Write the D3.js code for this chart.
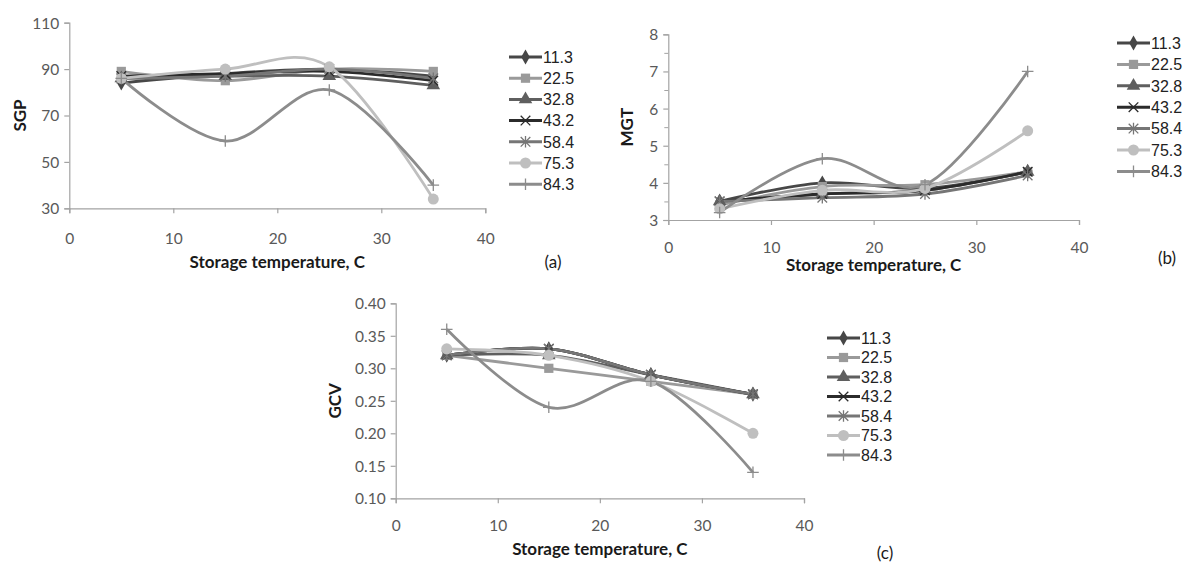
<!DOCTYPE html>
<html><head><meta charset="utf-8">
<script src="https://cdn.jsdelivr.net/npm/d3@7"></script>
<style>
html,body{margin:0;padding:0;background:#fff;}
svg{display:block;}
</style></head>
<body><svg id="chart" width="1186" height="565"></svg>
<script>
// ---------- data ----------
const temperatures = [5, 15, 25, 35];
const seriesNames = ["11.3", "22.5", "32.8", "43.2", "58.4", "75.3", "84.3"];

const sgpValues = [
  [84, 88, 90, 87],
  [89, 85, 90, 89],
  [86, 87, 87, 83],
  [87, 88, 89, 85],
  [86, 87, 90, 86],
  [86, 90, 91, 34],
  [86, 59, 81, 40]
];
const mgtValues = [
  [3.5, 4.0, 3.85, 4.3],
  [3.4, 3.9, 3.95, 4.3],
  [3.5, 3.7, 3.8, 4.3],
  [3.5, 3.7, 3.8, 4.3],
  [3.5, 3.6, 3.7, 4.2],
  [3.3, 3.8, 3.85, 5.4],
  [3.2, 4.65, 3.95, 7.0]
];
const gcvValues = [
  [0.32, 0.33, 0.29, 0.26],
  [0.32, 0.30, 0.28, 0.26],
  [0.32, 0.32, 0.29, 0.26],
  [0.32, 0.33, 0.29, 0.26],
  [0.32, 0.33, 0.29, 0.26],
  [0.33, 0.32, 0.28, 0.20],
  [0.36, 0.24, 0.28, 0.14]
];
const xTicks = [0, 10, 20, 30, 40];
const sgpTicks = [30, 50, 70, 90, 110];
const mgtTicks = [3, 4, 5, 6, 7, 8];
const gcvTicks = [0.10, 0.15, 0.20, 0.25, 0.30, 0.35, 0.40];

// ---------- styles ----------
const seriesColors = ["#474747", "#9a9a9a", "#5f5f5f", "#2b2b2b", "#767676", "#bfbfbf", "#8c8c8c"];
const markerTypes = ["diamond", "square", "triangle", "x", "star", "circle", "plus"];
const tickFont = "Lato, 'Open Sans', sans-serif";
const legendFont = "'Liberation Sans', Arial, sans-serif";

const svg = d3.select("#chart");

function marker(g, type, color) {
  const s = 4.8;
  if (type === "diamond") {
    g.append("path").attr("d", d3.symbol(d3.symbolDiamond, 64)()).attr("fill", color);
  } else if (type === "square") {
    g.append("path").attr("d", d3.symbol(d3.symbolSquare, 85)()).attr("fill", color);
  } else if (type === "triangle") {
    g.append("path").attr("d", d3.symbol(d3.symbolTriangle, 80)()).attr("fill", color);
  } else if (type === "circle") {
    g.append("path").attr("d", d3.symbol(d3.symbolCircle, 95)()).attr("fill", color);
  } else if (type === "x") {
    g.append("path").attr("d", `M${-s},${-s}L${s},${s}M${-s},${s}L${s},${-s}`)
      .attr("stroke", color).attr("stroke-width", 1.3).attr("fill", "none");
  } else if (type === "star") {
    g.append("path").attr("d", `M${-s},${-s}L${s},${s}M${-s},${s}L${s},${-s}M0,${-s - 1}L0,${s + 1}`)
      .attr("stroke", color).attr("stroke-width", 1.3).attr("fill", "none");
  } else if (type === "plus") {
    g.append("path").attr("d", `M${-s - 1},0L${s + 1},0M0,${-s - 1}L0,${s + 1}`)
      .attr("stroke", color).attr("stroke-width", 1.3).attr("fill", "none");
  }
}

function drawPanel(cfg) {
  const g = svg.append("g");
  const x = d3.scaleLinear().domain([0, 40]).range([cfg.x0, cfg.x1]);
  const y = d3.scaleLinear().domain(cfg.domain).range([cfg.yBot, cfg.yTop]);

  // axes
  const axisColor = "#a3a3a3";
  const yAxis = g.append("g").attr("transform", `translate(${cfg.x0},0)`)
    .call(d3.axisLeft(y).tickValues(cfg.ticks).tickSize(5).tickFormat(cfg.fmt));
  const xAxis = g.append("g").attr("transform", `translate(0,${cfg.yBot})`)
    .call(d3.axisBottom(x).tickValues(xTicks).tickSize(5).tickFormat(d3.format("d")));
  if (cfg.minor) {
    g.append("g").attr("transform", `translate(${cfg.x0},0)`)
      .call(d3.axisLeft(y).tickValues(cfg.minor).tickSize(4).tickFormat(""))
      .call(a => a.select(".domain").remove())
      .selectAll("line").attr("stroke", axisColor);
  }
  [yAxis, xAxis].forEach(a => {
    a.select(".domain").attr("stroke", axisColor).attr("stroke-width", 1.2);
    a.selectAll(".tick line").attr("stroke", axisColor).attr("stroke-width", 1.2);
    a.selectAll("text").attr("font-family", tickFont).attr("font-size", 15.5).attr("fill", "#595959");
  });
  yAxis.selectAll("text").attr("x", -10).attr("dy", "0.35em");
  xAxis.selectAll("text").attr("y", cfg.xLabelOffset).attr("dy", "0.35em");

  // titles
  g.append("text").attr("x", (cfg.x0 + cfg.x1) / 2).attr("y", cfg.xTitleY)
    .attr("text-anchor", "middle").attr("dy", "0.35em")
    .attr("font-family", tickFont).attr("font-weight", "bold").attr("font-size", 17).attr("fill", "#1a1a1a")
    .text("Storage temperature, C");
  g.append("text").attr("transform", `translate(${cfg.yTitleX},${(cfg.yTop + cfg.yBot) / 2}) rotate(-90)`)
    .attr("text-anchor", "middle").attr("dy", "0.35em")
    .attr("font-family", tickFont).attr("font-weight", "bold").attr("font-size", 17).attr("fill", "#1a1a1a")
    .text(cfg.yTitle);
  g.append("text").attr("x", cfg.tagX).attr("y", cfg.tagY).attr("text-anchor", "middle").attr("dy", "0.35em")
    .attr("font-family", tickFont).attr("font-size", 17).attr("fill", "#1a1a1a").text(cfg.tag);

  // lines
  const line = d3.line().x((d, i) => x(temperatures[i])).y(d => y(d)).curve(d3.curveCardinal.tension(0));
  cfg.values.forEach((vals, si) => {
    g.append("path").attr("d", line(vals)).attr("fill", "none")
      .attr("stroke", seriesColors[si]).attr("stroke-width", 2.8).attr("stroke-linejoin", "round");
  });
  cfg.values.forEach((vals, si) => {
    vals.forEach((v, i) => {
      const m = g.append("g").attr("transform", `translate(${x(temperatures[i])},${y(v)})`);
      marker(m, markerTypes[si], seriesColors[si]);
    });
  });

  // legend
  seriesNames.forEach((name, si) => {
    const ly = cfg.legY + si * cfg.legStep;
    g.append("line").attr("x1", cfg.legX).attr("x2", cfg.legX + 33).attr("y1", ly).attr("y2", ly)
      .attr("stroke", seriesColors[si]).attr("stroke-width", 3);
    const m = g.append("g").attr("transform", `translate(${cfg.legX + 16.5},${ly})`);
    marker(m, markerTypes[si], seriesColors[si]);
    g.append("text").attr("x", cfg.legX + 34).attr("y", ly).attr("dy", "0.36em")
      .attr("font-family", legendFont).attr("font-size", 16).attr("fill", "#222").text(name);
  });
}

drawPanel({
  values: sgpValues, domain: [30, 110], ticks: sgpTicks, fmt: d3.format("d"),
  x0: 69.3, x1: 485.3, yTop: 22.7, yBot: 208.3, xLabelOffset: 30, xTitleY: 262,
  yTitle: "SGP", yTitleX: 20, tag: "(a)", tagX: 553, tagY: 262,
  legX: 509, legY: 57, legStep: 21.2
});
drawPanel({
  values: mgtValues, domain: [3, 8], ticks: mgtTicks, fmt: d3.format("d"),
  minor: [3.5, 4.5, 5.5, 6.5, 7.5],
  x0: 668.3, x1: 1079, yTop: 34.3, yBot: 220, xLabelOffset: 28, xTitleY: 265,
  yTitle: "MGT", yTitleX: 627, tag: "(b)", tagX: 1167, tagY: 258,
  legX: 1117, legY: 43, legStep: 21.4
});
drawPanel({
  values: gcvValues, domain: [0.10, 0.40], ticks: gcvTicks, fmt: d3.format(".2f"),
  x0: 395.7, x1: 804, yTop: 303.3, yBot: 498.3, xLabelOffset: 27, xTitleY: 549,
  yTitle: "GCV", yTitleX: 335, tag: "(c)", tagX: 885, tagY: 553,
  legX: 827, legY: 338, legStep: 19.5
});
</script></body></html>
